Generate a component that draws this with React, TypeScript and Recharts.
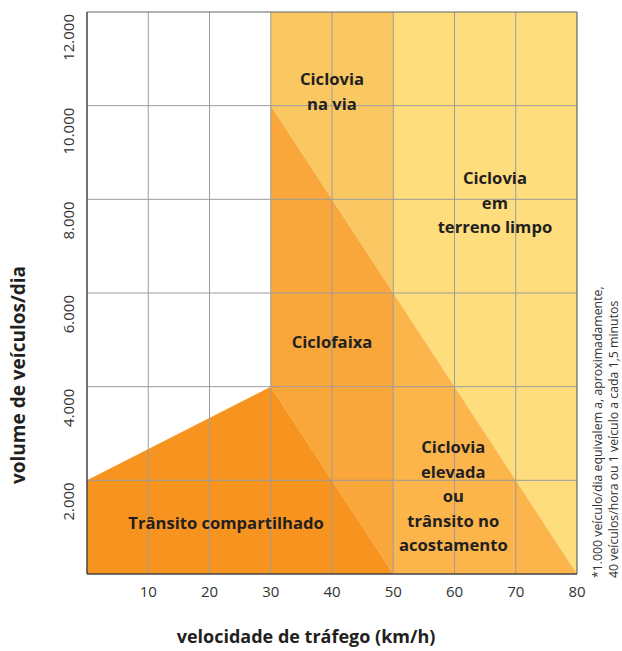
import { Area, ComposedChart, Label, ReferenceDot, ReferenceLine, XAxis, YAxis } from "recharts";

document.body.style.margin = "0";

// velocidade (km/h) e limites inferior/superior de cada zona (veículos/dia)
const compartilhado = [
  { v: 0, faixa: [0, 2000] },
  { v: 30, faixa: [0, 4000] },
  { v: 50, faixa: [0, 0] },
];
const ciclofaixa = [
  { v: 30, faixa: [4000, 10000] },
  { v: 50, faixa: [0, 6000] },
];
const cicloviaElevada = [
  { v: 50, faixa: [0, 6000] },
  { v: 80, faixa: [0, 0] },
];
const cicloviaNaVia = [
  { v: 30, faixa: [10000, 12000] },
  { v: 50, faixa: [6000, 12000] },
];
const terrenoLimpo = [
  { v: 50, faixa: [6000, 12000] },
  { v: 80, faixa: [0, 12000] },
];

const xTicks = [10, 20, 30, 40, 50, 60, 70, 80];
const yTicks = [2000, 4000, 6000, 8000, 10000, 12000];
const yTickLabels = ["2.000", "4.000", "6.000", "8.000", "10.000", "12.000"];
const gridX = [10, 20, 30, 40, 50, 60, 70];
const gridY = [2000, 4000, 6000, 8000, 10000];

const regionLabels = [
  { x: 22.7, y: 1090, lines: ["Trânsito compartilhado"] },
  { x: 40, y: 4950, lines: ["Ciclofaixa"] },
  { x: 40, y: 10300, lines: ["Ciclovia", "na via"] },
  { x: 66.6, y: 7920, lines: ["Ciclovia", "em", "terreno limpo"] },
  { x: 59.8, y: 1655, lines: ["Ciclovia", "elevada", "ou", "trânsito no", "acostamento"] },
];

const FONT = "'Open Sans', 'DejaVu Sans', sans-serif";
const TEXT = "#231f20";

function RegionLabel({ cx, cy, lines }: { cx?: number; cy?: number; lines: string[] }) {
  if (cx == null || cy == null) return null;
  const lh = 24.4;
  const first = cy - ((lines.length - 1) * lh) / 2 + 5.8;
  return (
    <text x={cx} y={first} textAnchor="middle" fontFamily={FONT} fontWeight={700} fontSize={16.6} fill={TEXT}>
      {lines.map((l, i) => (
        <tspan key={i} x={cx} y={first + i * lh}>
          {l}
        </tspan>
      ))}
    </text>
  );
}

function YTick({ y, payload }: any) {
  const i = yTicks.indexOf(payload.value);
  const ty = y + 2;
  return (
    <text
      x={74}
      y={ty}
      transform={`rotate(-90, 74, ${ty})`}
      textAnchor="end"
      fontFamily={FONT}
      fontSize={15}
      fill="#333"
    >
      {yTickLabels[i]}
    </text>
  );
}

function XTick({ x, payload }: any) {
  return (
    <text x={x} y={597} textAnchor="middle" fontFamily={FONT} fontSize={15} fill="#333">
      {payload.value}
    </text>
  );
}

const areaProps = {
  type: "linear" as const,
  dataKey: "faixa",
  stroke: "none",
  fillOpacity: 1,
  isAnimationActive: false,
  activeDot: false,
  dot: false,
};

export default function App() {
  return (
    <div style={{ position: "relative", width: 622, height: 651 }}>
      <ComposedChart width={622} height={651} margin={{ top: 12, right: 45, bottom: 0, left: 0 }}>
        <XAxis
          dataKey="v"
          type="number"
          domain={[0, 80]}
          ticks={xTicks}
          tick={<XTick />}
          tickLine={false}
          axisLine={false}
          height={77}
          allowDataOverflow
        >
          <Label
            content={() => (
              <text x={306} y={643} textAnchor="middle" fontFamily={FONT} fontWeight={700} fontSize={18} fill={TEXT}>
                velocidade de tráfego (km/h)
              </text>
            )}
          />
        </XAxis>
        <YAxis
          type="number"
          domain={[0, 12000]}
          ticks={yTicks}
          tick={<YTick />}
          tickLine={false}
          axisLine={false}
          width={87}
          allowDataOverflow
        >
          <Label
            content={() => (
              <text
                x={24.5}
                y={375}
                transform="rotate(-90, 24.5, 375)"
                textAnchor="middle"
                fontFamily={FONT}
                fontWeight={700}
                fontSize={19}
                fill={TEXT}
              >
                volume de veículos/dia
              </text>
            )}
          />
        </YAxis>

        <Area {...areaProps} data={terrenoLimpo} fill="#fddd7c" />
        <Area {...areaProps} data={cicloviaNaVia} fill="#fac862" />
        <Area {...areaProps} data={cicloviaElevada} fill="#fbb54b" />
        <Area {...areaProps} data={ciclofaixa} fill="#f9a73a" />
        <Area {...areaProps} data={compartilhado} fill="#f7941f" />

        {gridX.map((v) => (
          <ReferenceLine key={`gx${v}`} x={v} stroke="#9c9c9c" strokeWidth={1} />
        ))}
        {gridY.map((v) => (
          <ReferenceLine key={`gy${v}`} y={v} stroke="#9c9c9c" strokeWidth={1} />
        ))}
        <ReferenceLine x={80} stroke="#666" strokeWidth={1.2} />
        <ReferenceLine y={12000} stroke="#666" strokeWidth={1.2} />
        <ReferenceLine x={0} stroke="#444" strokeWidth={1.5} />
        <ReferenceLine y={0} stroke="#444" strokeWidth={1.5} />

        {regionLabels.map((r, i) => (
          <ReferenceDot
            key={i}
            x={r.x}
            y={r.y}
            r={0}
            ifOverflow="visible"
            shape={(p: any) => <RegionLabel cx={p.cx} cy={p.cy} lines={r.lines} />}
          />
        ))}
      </ComposedChart>
      <svg width={622} height={651} style={{ position: "absolute", left: 0, top: 0, pointerEvents: "none" }}>
        <text x={602} y={578} transform="rotate(-90, 602, 578)" fontFamily={FONT} fontSize={12.3} fill="#333">
          *1.000 veículo/dia equivalem a, aproximadamente,
          <tspan x={602} dy={15.5}>
            40 veículos/hora ou 1 veículo a cada 1,5 minutos
          </tspan>
        </text>
      </svg>
    </div>
  );
}
